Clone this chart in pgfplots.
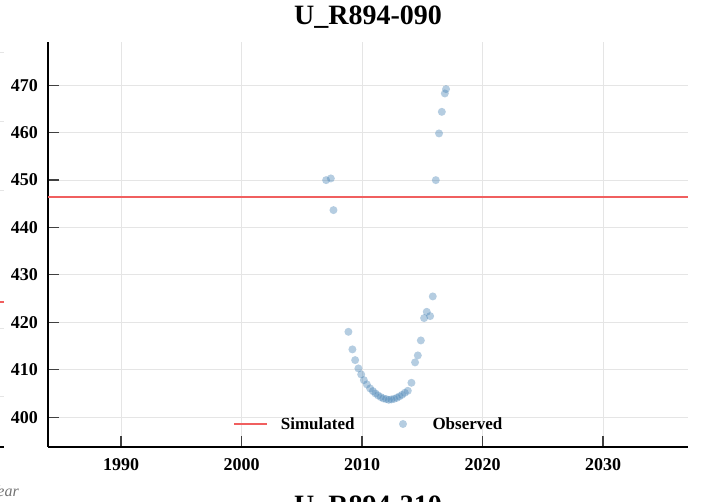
\documentclass[border=0pt]{standalone}
\usepackage{fontspec}
\setmainfont{Liberation Serif}
\usepackage{pgfplots}
\pgfplotsset{compat=1.18}

\definecolor{steelblue}{RGB}{70,130,180}
\definecolor{simred}{RGB}{240,95,95}

% observed heads, well U_R894-090
\pgfplotstableread{
year value
2007.02 449.97
2007.41 450.33
2007.63 443.65
2008.87 417.99
2009.20 414.28
2009.43 412.02
2009.70 410.27
2009.93 409.00
2010.15 407.80
2010.40 406.90
2010.67 406.05
2010.90 405.48
2011.11 405.00
2011.33 404.58
2011.56 404.22
2011.77 403.94
2012.00 403.80
2012.22 403.65
2012.44 403.73
2012.66 403.86
2012.89 404.07
2013.10 404.37
2013.32 404.70
2013.55 405.13
2013.80 405.55
2014.10 407.24
2014.40 411.54
2014.63 413.01
2014.88 416.17
2015.15 420.88
2015.37 422.20
2015.65 421.30
2015.87 425.45
2016.12 449.97
2016.39 459.82
2016.62 464.37
2016.87 468.25
2016.97 469.16
}\observed

\begin{document}
\begin{tikzpicture}
\path[use as bounding box, clip] (0pt,0pt) rectangle (701pt,502pt);

% bits of the neighbouring panels
\draw[gray!20, line width=0.8pt] (0pt,450pt) -- (4pt,450pt);
\draw[gray!20, line width=0.8pt] (0pt,381pt) -- (4pt,381pt);
\draw[gray!20, line width=0.8pt] (0pt,312pt) -- (4pt,312pt);
\draw[gray!20, line width=0.8pt] (0pt,174pt) -- (4pt,174pt);
\draw[gray!20, line width=0.8pt] (0pt,106pt) -- (4pt,106pt);
\draw[simred, line width=1.2pt] (0pt,200pt) -- (4pt,200pt);
\draw[black, line width=1.3pt] (0pt,55pt) -- (4pt,55pt);
\node[anchor=base east, inner sep=0pt, text=black!55, font=\fontsize{16}{16}\selectfont\itshape] at (19pt,5pt) {Year};
\node[anchor=base, inner sep=0pt, font=\fontsize{28}{28}\selectfont\bfseries] at (368pt,-13pt) {U\_R894-310};

\begin{axis}[
  at={(48pt,55pt)}, anchor=south west,
  scale only axis,
  width=640pt, height=405pt,
  xmin=1983.94, xmax=2037.05,
  ymin=393.7, ymax=479.1,
  xtick={1990,2000,2010,2020,2030},
  ytick={400,410,420,430,440,450,460,470},
  axis x line*=bottom, axis y line*=left,
  axis line style={black, line width=1.3pt},
  tick align=inside,
  major tick length=11pt,
  major tick style={black!75, line width=1.2pt},
  grid=major,
  major grid style={gray!20, line width=0.8pt},
  /pgf/number format/1000 sep={},
  /pgf/number format/assume math mode=true,
  ticklabel style={font=\fontsize{18}{18}\selectfont\bfseries},
  xticklabel style={inner sep=0pt, anchor=north, yshift=-11pt},
  yticklabel style={inner sep=0pt, anchor=east, xshift=-10pt},
  title={U\_R894-090},
  title style={at={(0.5,1)}, anchor=base, yshift=11pt, inner sep=0pt,
    font=\fontsize{28}{28}\selectfont\bfseries},
  legend columns=2,
  legend cell align=left,
  legend style={
    at={(0.5,0)}, anchor=center, yshift=23pt,
    draw=none, fill=none, inner sep=0pt,
    nodes={inner sep=0pt},
    font=\fontsize{17}{17}\selectfont\bfseries,
    /tikz/every odd column/.append style={column sep=13pt},
    /tikz/every even column/.append style={column sep=32pt},
  },
]
\addplot[simred, line width=1.2pt, forget plot]
  coordinates {(1983.94,446.4) (2037.05,446.4)};

\addplot[only marks, mark=*, mark size=4pt, forget plot,
  mark options={draw=steelblue, draw opacity=0, fill=steelblue, fill opacity=0.4}]
  table[x=year, y=value] {\observed};

\addlegendimage{legend image code/.code={
  \draw[simred, line width=1.2pt] (0pt,0pt) -- (33pt,0pt);}}
\addlegendentry{Simulated}
\addlegendimage{legend image code/.code={
  \path[draw=none] (0pt,-4pt) rectangle (33pt,4pt);
  \path[draw=none, fill=steelblue, fill opacity=0.4] (16.5pt,0pt) circle (4pt);}}
\addlegendentry{Observed}
\end{axis}
\end{tikzpicture}
\end{document}
